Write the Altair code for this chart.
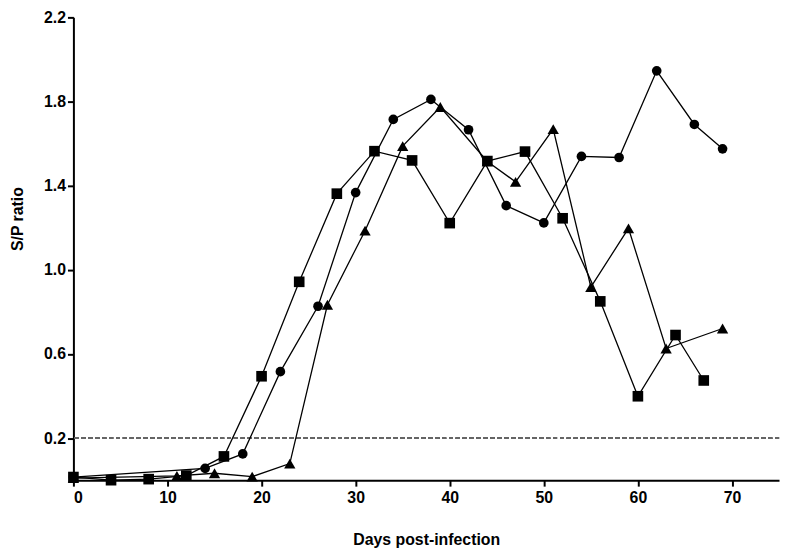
import altair as alt
import pandas as pd

# Series (days post-infection, S/P ratio)
circle_days = [0, 14, 18, 22, 26, 30, 34, 38, 42, 46, 50, 54, 58, 62, 66, 69]
circle_vals = [0.015, 0.056, 0.125, 0.516, 0.827, 1.367, 1.715, 1.810, 1.666, 1.305,
               1.223, 1.539, 1.534, 1.946, 1.691, 1.575]

square_days = [0, 4, 8, 12, 16, 20, 24, 28, 32, 36, 40, 44, 48, 52, 56, 60, 64, 67]
square_vals = [0.015, 0.0, 0.005, 0.022, 0.113, 0.494, 0.943, 1.362, 1.564, 1.520,
               1.222, 1.517, 1.562, 1.245, 0.850, 0.399, 0.690, 0.474]

triangle_days = [0, 11, 15, 19, 23, 27, 31, 35, 39, 44, 47, 51, 55, 59, 63, 69]
triangle_vals = [0.01, 0.02, 0.033, 0.017, 0.079, 0.834, 1.186, 1.588, 1.774, 1.515,
                 1.418, 1.669, 0.918, 1.197, 0.626, 0.721]

series_names = ["circle", "square", "triangle"]
series_shapes = ["circle", "square", "triangle-up"]
series_sizes = [95, 115, 130]

x_ticks = [0, 10, 20, 30, 40, 50, 60, 70]
y_ticks = [0.2, 0.6, 1.0, 1.4, 1.8, 2.2]
cutoff = 0.2

rows = []
for name, days, vals in [("circle", circle_days, circle_vals),
                         ("square", square_days, square_vals),
                         ("triangle", triangle_days, triangle_vals)]:
    for d, v in zip(days, vals):
        rows.append({"series": name, "day": d, "value": v})
df = pd.DataFrame(rows)

x_enc = alt.X("day:Q",
              scale=alt.Scale(domain=[0, 75], nice=False, zero=False),
              axis=alt.Axis(values=x_ticks, title="Days post-infection",
                            labelPadding=4, titleBaseline="alphabetic", titleY=64.5))
y_enc = alt.Y("value:Q",
              scale=alt.Scale(domain=[0, 2.2], nice=False),
              axis=alt.Axis(values=y_ticks, format=".1f", title="S/P ratio",
                            labelPadding=2, titleAngle=270, titleAlign="center",
                            titleBaseline="alphabetic", titleX=-51, titleY=203))

rule = alt.Chart(df).mark_rule(color="#666666", strokeDash=[4, 3], strokeWidth=1).encode(
    y=alt.datum(cutoff)
)

lines = alt.Chart(df).mark_line(color="black", strokeWidth=1.3).encode(
    x=x_enc, y=y_enc, detail="series:N", order="day:Q"
)

point_layers = []
for name, shp, sz in zip(series_names, series_shapes, series_sizes):
    point_layers.append(
        alt.Chart(df).transform_filter(alt.datum.series == name)
        .mark_point(shape=shp, size=sz, filled=True, color="black", opacity=1)
        .encode(x=x_enc, y=y_enc)
    )

chart = alt.layer(rule, lines, *point_layers).properties(
    width=712, height=467,
    padding={"left": 66, "top": 7, "right": 2, "bottom": 70},
    autosize=alt.AutoSizeParams(type="none"),
).configure_view(stroke=None).configure_axis(
    grid=False, domainColor="black", domainWidth=2,
    tickColor="black", tickWidth=2, tickSize=6,
    labelFont="Liberation Sans", labelFontWeight="bold", labelFontSize=16, labelColor="black",
    titleFont="Liberation Sans", titleFontWeight="bold", titleFontSize=16, titleColor="black",
)

chart.save("out.html", embed_options={"renderer": "svg", "actions": False})
